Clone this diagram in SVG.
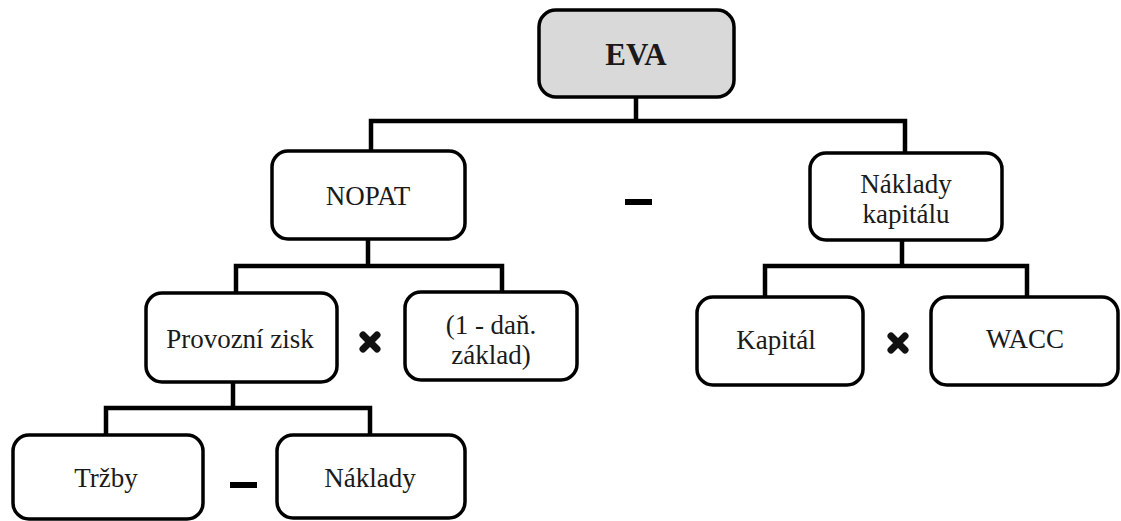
<svg xmlns="http://www.w3.org/2000/svg" width="1121" height="521" viewBox="0 0 1121 521">
<style>
.box{fill:#fff;stroke:#000;stroke-width:3.5}
.root{fill:#d9d9d9;stroke:#000;stroke-width:3.5}
.t{font-family:"Liberation Serif","Times New Roman",serif;font-size:27px;fill:#1a1a1a;text-anchor:middle}
.tb{font-family:"Liberation Serif","Times New Roman",serif;font-size:31px;font-weight:bold;fill:#1a1a1a;text-anchor:middle}
.c{fill:none;stroke:#000;stroke-width:4.5;stroke-linejoin:miter}
.op{fill:#000}
.x{stroke:#111;stroke-width:7;stroke-linecap:round}
</style>
<rect width="1121" height="521" fill="#fff"/>
<g id="connectors">
<path class="c" d="M636 97V121M371 152V121H905V152"/>
<path class="c" d="M368 239V266M236 293V266H502V292"/>
<path class="c" d="M902 240V266M765 297V266H1027V297"/>
<path class="c" d="M233 382V408M106 435V408H370V435"/>
</g>
<g id="EVA"><rect class="root" x="539" y="10" width="195" height="87" rx="17"/><text class="tb" x="636" y="65">EVA</text></g>
<g id="NOPAT"><rect class="box" x="272" y="151" width="193" height="88" rx="16"/><text class="t" x="368" y="205">NOPAT</text></g>
<g id="minus1"><rect class="op" x="625" y="199" width="27" height="6"/></g>
<g id="NakladyKapitalu"><rect class="box" x="810" y="153" width="192" height="87" rx="16"/><text class="t" x="906" y="193">Náklady</text><text class="t" x="906" y="223">kapitálu</text></g>
<g id="ProvozniZisk"><rect class="box" x="146" y="293" width="191" height="89" rx="16"/><text class="t" x="240" y="348">Provozní zisk</text></g>
<g id="times1"><path class="x" d="M363 335L377 349M377 335L363 349"/></g>
<g id="Dan"><rect class="box" x="405" y="292" width="172" height="88" rx="16"/><text class="t" x="491" y="334">(1 - daň.</text><text class="t" x="491" y="364">základ)</text></g>
<g id="Kapital"><rect class="box" x="697" y="297" width="166" height="88" rx="16"/><text class="t" x="776" y="349">Kapitál</text></g>
<g id="times2"><path class="x" d="M891 336L905 350M905 336L891 350"/></g>
<g id="WACC"><rect class="box" x="931" y="297" width="187" height="88" rx="16"/><text class="t" x="1025" y="348">WACC</text></g>
<g id="Trzby"><rect class="box" x="13" y="435" width="190" height="84" rx="16"/><text class="t" x="106" y="487">Tržby</text></g>
<g id="minus2"><rect class="op" x="230" y="482" width="27" height="6"/></g>
<g id="Naklady"><rect class="box" x="277" y="435" width="188" height="83" rx="16"/><text class="t" x="370" y="487">Náklady</text></g>
</svg>
